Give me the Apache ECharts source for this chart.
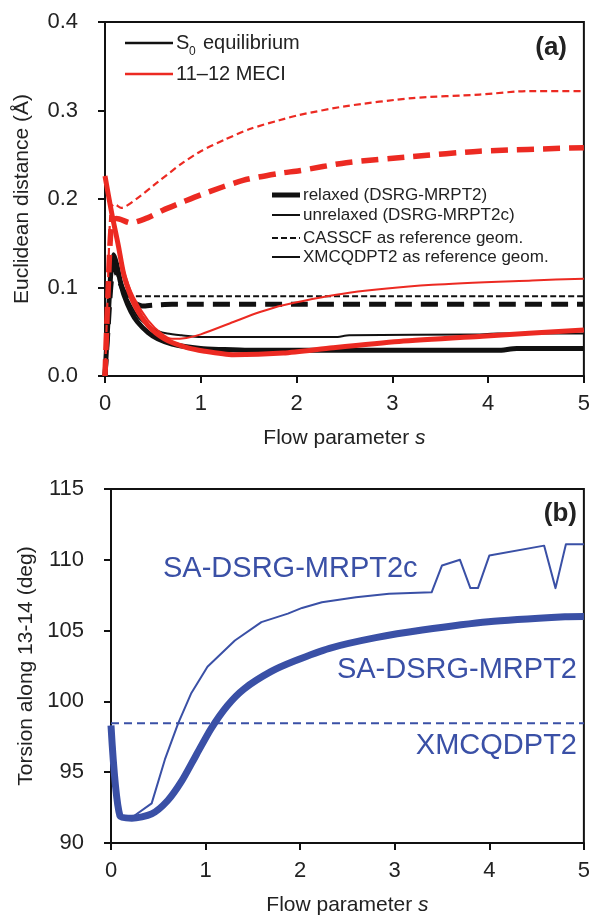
<!DOCTYPE html>
<html><head><meta charset="utf-8">
<script src="https://cdn.jsdelivr.net/npm/echarts@6/dist/echarts.min.js"></script>
<style>html,body{margin:0;padding:0;background:#fff}#c{width:593px;height:917px}</style>
</head><body><div id="c"></div>
<script>
// ---------- Panel (a): Euclidean distance vs flow parameter s ----------
const s_blkRelaxed = [0, 0.03, 0.06, 0.09, 0.12, 0.16, 0.2, 0.27, 0.34, 0.45, 0.55, 0.7, 0.85, 1.0, 1.2, 1.5, 2.0, 3.0, 4.1, 4.3, 5];
const v_blkRelaxed = [0, 0.06, 0.115, 0.137, 0.127, 0.107, 0.091, 0.073, 0.061, 0.049, 0.042, 0.036, 0.033, 0.031, 0.030, 0.029, 0.029, 0.029, 0.029, 0.031, 0.031];

const s_blkUnrelaxed = [0, 0.03, 0.06, 0.09, 0.12, 0.16, 0.2, 0.27, 0.35, 0.45, 0.55, 0.65, 0.8, 1.0, 2.0, 2.4, 2.55, 3.9, 4.1, 5];
const v_blkUnrelaxed = [0, 0.06, 0.115, 0.134, 0.126, 0.109, 0.096, 0.080, 0.066, 0.057, 0.051, 0.048, 0.046, 0.044, 0.044, 0.044, 0.046, 0.047, 0.048, 0.048];

const s_blkCasscf = [0, 0.03, 0.06, 0.09, 0.14, 0.2, 0.27, 1, 2, 3, 4, 5];
const v_blkCasscf = [0, 0.05, 0.10, 0.125, 0.11, 0.095, 0.090, 0.090, 0.090, 0.090, 0.090, 0.090];

const s_blkXmc = [0, 0.03, 0.06, 0.09, 0.14, 0.2, 0.3, 0.4, 0.5, 0.7, 2, 3, 4, 5];
const v_blkXmc = [0, 0.05, 0.10, 0.125, 0.11, 0.095, 0.083, 0.079, 0.080, 0.081, 0.081, 0.081, 0.081, 0.081];

const s_redRelaxed = [0, 0.07, 0.14, 0.2, 0.31, 0.45, 0.62, 0.83, 1.04, 1.34, 1.86, 2.38, 3.07, 3.94, 5];
const v_redRelaxed = [0.226, 0.184, 0.147, 0.113, 0.080, 0.057, 0.042, 0.033, 0.028, 0.024, 0.026, 0.032, 0.039, 0.045, 0.052];

const s_redUnrelaxed = [0, 0.07, 0.14, 0.2, 0.3, 0.45, 0.6, 0.7, 0.85, 1.0, 1.34, 1.61, 1.86, 2.55, 3.42, 4.46, 5];
const v_redUnrelaxed = [0.226, 0.186, 0.150, 0.118, 0.089, 0.063, 0.047, 0.042, 0.043, 0.047, 0.061, 0.072, 0.080, 0.094, 0.103, 0.108, 0.110];

const s_redCasscf = [0, 0.03, 0.06, 0.1, 0.17, 0.34, 0.55, 0.8, 1.0, 1.25, 1.51, 1.82, 2.03, 2.52, 3.21, 3.91, 4.43, 5];
const v_redCasscf = [0, 0.10, 0.19, 0.194, 0.190, 0.201, 0.219, 0.240, 0.254, 0.267, 0.279, 0.289, 0.295, 0.305, 0.314, 0.318, 0.322, 0.322];

const s_redXmc = [0, 0.03, 0.07, 0.12, 0.27, 0.45, 0.6, 0.8, 1.03, 1.44, 1.82, 2.03, 2.52, 3.21, 3.91, 5];
const v_redXmc = [0, 0.09, 0.175, 0.178, 0.173, 0.179, 0.187, 0.196, 0.206, 0.221, 0.229, 0.232, 0.241, 0.248, 0.254, 0.258];

// ---------- Panel (b): torsion along 13-14 ----------
const s_torsRelaxed = [0, 0.095, 0.22, 0.43, 0.6, 0.75, 0.9, 1.06, 1.23, 1.41, 1.69, 1.94, 2.31, 2.8, 3.29, 3.99, 4.8, 5];
const v_torsRelaxed = [98.3, 91.9, 91.75, 92.05, 93.0, 94.4, 96.2, 98.1, 99.7, 100.9, 102.1, 102.85, 103.75, 104.5, 105.04, 105.63, 105.98, 106.0];

const s_torsUnrelaxed = [0, 0.095, 0.22, 0.43, 0.57, 0.71, 0.85, 1.02, 1.31, 1.59, 1.87, 2.02, 2.23, 2.59, 2.94, 3.39, 3.5, 3.69, 3.8, 3.88, 4.0, 4.58, 4.7, 4.81, 5];
const v_torsUnrelaxed = [98.3, 91.9, 91.8, 92.8, 95.9, 98.45, 100.6, 102.45, 104.3, 105.6, 106.2, 106.6, 107.0, 107.35, 107.6, 107.7, 109.6, 110.0, 108.0, 108.0, 110.3, 111.0, 108.0, 111.1, 111.1];

const s_torsXmc = [0, 5];
const v_torsXmc = [98.45, 98.45];

const xTicks = [0, 1, 2, 3, 4, 5];
const yTicksA = [0.0, 0.1, 0.2, 0.3, 0.4];
const yTicksB = [90, 95, 100, 105, 110, 115];

// ---------- styling ----------
const FONT = "'Liberation Sans', Arial, sans-serif";
const BLACK = '#111111';
const RED = '#ec2a22';
const BLUE = '#3a50a6';
const zip = (s, v) => s.map((x, i) => [x, v[i]]);

function line(name, gi, s, v, color, width, dash, smooth) {
  return {
    name, type: 'line', xAxisIndex: gi, yAxisIndex: gi,
    data: zip(s, v), symbol: 'none', smooth: smooth,
    lineStyle: { color, width, type: dash || 'solid', cap: 'butt', join: 'round' },
    silent: true, z: 3
  };
}

function xAxisCfg(gi) {
  return {
    gridIndex: gi, type: 'value', min: xTicks[0], max: xTicks[xTicks.length - 1], interval: 1,
    axisLine: { onZero: false, lineStyle: { color: BLACK, width: 2 } },
    axisTick: { length: 7, lineStyle: { color: BLACK, width: 2 } },
    axisLabel: { fontFamily: FONT, fontSize: 22, color: '#222', margin: 17 },
    splitLine: { show: false },
    name: 'Flow parameter {i|s}', nameLocation: 'middle', nameGap: 52,
    nameTextStyle: { fontFamily: FONT, fontSize: 21, color: '#222',
      rich: { i: { fontFamily: FONT, fontSize: 21, fontStyle: 'italic', color: '#222' } } }
  };
}
function yAxisCfg(gi, ticks, interval, name, fmt) {
  return {
    gridIndex: gi, type: 'value', min: ticks[0], max: ticks[ticks.length - 1], interval,
    axisLine: { show: true, onZero: false, lineStyle: { color: BLACK, width: 2 } },
    axisTick: { show: true, length: 7, lineStyle: { color: BLACK, width: 2 } },
    axisLabel: { fontFamily: FONT, fontSize: 22, color: '#222', margin: 27, formatter: fmt },
    splitLine: { show: false },
    name, nameLocation: 'middle', nameGap: 72, nameRotate: 90,
    nameTextStyle: { fontFamily: FONT, fontSize: 21, color: '#222' }
  };
}

const gText = (text, x, y, opts) => Object.assign({
  type: 'text', silent: true,
  style: Object.assign({ text, x, y, fill: '#222', font: '17px ' + FONT, align: 'left', verticalAlign: 'middle' }, opts || {})
});
const gLine = (x1, y1, x2, y2, stroke, lineWidth, lineDash) => ({
  type: 'line', silent: true, shape: { x1, y1, x2, y2 },
  style: { stroke, lineWidth, lineDash: lineDash || null, lineCap: 'butt' }
});

const option = {
  animation: false,
  backgroundColor: '#fff',
  grid: [
    { left: 105, top: 22, width: 480, height: 354, show: true, borderColor: BLACK, borderWidth: 2, backgroundColor: 'transparent' },
    { left: 111, top: 489, width: 474, height: 354, show: true, borderColor: BLACK, borderWidth: 2, backgroundColor: 'transparent' }
  ],
  xAxis: [xAxisCfg(0), xAxisCfg(1)],
  yAxis: [
    yAxisCfg(0, yTicksA, 0.1, 'Euclidean distance (Å)', v => v.toFixed(1)),
    yAxisCfg(1, yTicksB, 5, 'Torsion along 13-14 (deg)', v => String(v))
  ],
  series: [
    line('S0 relaxed (DSRG-MRPT2)', 0, s_blkRelaxed, v_blkRelaxed, BLACK, 5, 'solid', 0.25),
    line('S0 unrelaxed (DSRG-MRPT2c)', 0, s_blkUnrelaxed, v_blkUnrelaxed, BLACK, 2, 'solid', 0.25),
    line('S0 CASSCF as reference geom.', 0, s_blkCasscf, v_blkCasscf, BLACK, 2, [6, 3], 0.2),
    line('S0 XMCQDPT2 as reference geom.', 0, s_blkXmc, v_blkXmc, BLACK, 5, [17, 9], 0.2),
    line('MECI relaxed (DSRG-MRPT2)', 0, s_redRelaxed, v_redRelaxed, RED, 5, 'solid', 0.25),
    line('MECI unrelaxed (DSRG-MRPT2c)', 0, s_redUnrelaxed, v_redUnrelaxed, RED, 2, 'solid', 0.25),
    line('MECI CASSCF as reference geom.', 0, s_redCasscf, v_redCasscf, RED, 2.2, [7, 4], 0.25),
    line('MECI XMCQDPT2 as reference geom.', 0, s_redXmc, v_redXmc, RED, 5.5, [17, 9], 0.25),
    line('XMCQDPT2', 1, s_torsXmc, v_torsXmc, BLUE, 2, [8, 5], false),
    line('SA-DSRG-MRPT2', 1, s_torsRelaxed, v_torsRelaxed, BLUE, 7, 'solid', 0.25),
    line('SA-DSRG-MRPT2c', 1, s_torsUnrelaxed, v_torsUnrelaxed, BLUE, 2, 'solid', false)
  ],
  graphic: { elements: [
    // legend 1 (colour)
    gLine(125, 43, 173, 43, BLACK, 2.5),
    gText('S', 176, 43, { font: '20px ' + FONT }),
    gText('0', 189, 52, { font: '12px ' + FONT }),
    gText('equilibrium', 203, 43, { font: '20px ' + FONT }),
    gLine(125, 74, 173, 74, RED, 2.5),
    gText('11–12 MECI', 176, 74, { font: '20px ' + FONT }),
    // (a)
    gText('(a)', 567, 48, { font: 'bold 26px ' + FONT, align: 'right' }),
    // legend 2 (line styles)
    gLine(272, 195, 300, 195, BLACK, 5),
    gText('relaxed (DSRG-MRPT2)', 303, 195),
    gLine(272, 215, 300, 215, BLACK, 2),
    gText('unrelaxed (DSRG-MRPT2c)', 303, 215),
    gLine(272, 238, 300, 238, BLACK, 2, [6, 3]),
    gText('CASSCF as reference geom.', 303, 238),
    gLine(272, 257, 300, 257, BLACK, 2),
    gText('XMCQDPT2 as reference geom.', 303, 257),
    // panel (b) labels
    gText('(b)', 577, 514, { font: 'bold 26px ' + FONT, align: 'right' }),
    gText('SA-DSRG-MRPT2c', 163, 569, { font: '29px ' + FONT, fill: BLUE }),
    gText('SA-DSRG-MRPT2', 577, 670, { font: '29px ' + FONT, fill: BLUE, align: 'right' }),
    gText('XMCQDPT2', 577, 746, { font: '29px ' + FONT, fill: BLUE, align: 'right' })
  ] }
};

const chart = echarts.init(document.getElementById('c'), null, { renderer: 'canvas' });
chart.setOption(option);
</script>
</body></html>
